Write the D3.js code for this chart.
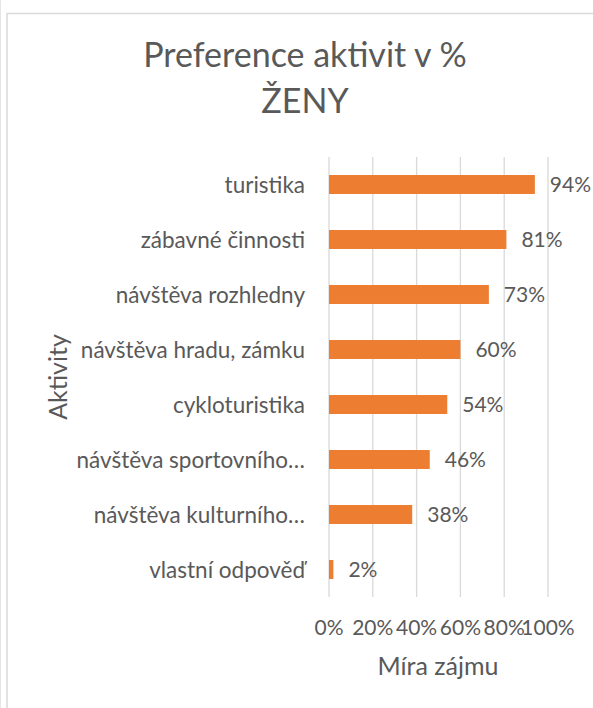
<!DOCTYPE html>
<html>
<head>
<meta charset="utf-8">
<script src="https://cdn.jsdelivr.net/npm/d3@7"></script>
<style>
  body { margin: 0; background: #fff; }
  text { font-family: Lato, "Open Sans", sans-serif; fill: #595959; }
</style>
</head>
<body>
<script>
// chart data
var categories = ["turistika", "zábavné činnosti", "návštěva rozhledny", "návštěva hradu, zámku",
                  "cykloturistika", "návštěva sportovního…", "návštěva kulturního…", "vlastní odpověď"];
var values = [0.94, 0.81, 0.73, 0.60, 0.54, 0.46, 0.38, 0.02];
var valueLabels = ["94%", "81%", "73%", "60%", "54%", "46%", "38%", "2%"];
var tickValues = [0, 0.2, 0.4, 0.6, 0.8, 1];
var titleLines = ["Preference aktivit v %", "ŽENY"];

var w = 593, h = 708;

var svg = d3.select("body").append("svg")
    .attr("width", w)
    .attr("height", h);

svg.append("rect").attr("width", w).attr("height", h).style("fill", "#fff");

// outer frame lines (cropped chart border)
svg.append("line")
    .attr("x1", 0.5).attr("x2", 0.5).attr("y1", 0).attr("y2", h)
    .style("stroke", "#e6e6e6");
svg.append("path")
    .attr("d", "M7," + h + "V13.5H" + w)
    .style("fill", "none")
    .style("stroke", "#d9d9d9")
    .style("stroke-width", 1.5);

// scales
var x = d3.scaleLinear().domain([0, 1]).range([329, 548]);
var y = d3.scaleBand().domain(categories).range([157, 597])
    .paddingInner(0.655).paddingOuter(0.3275);

// gridlines
svg.selectAll(".grid")
    .data(tickValues)
    .enter().append("line")
    .attr("class", "grid")
    .attr("x1", function(d){ return x(d); })
    .attr("x2", function(d){ return x(d); })
    .attr("y1", 157).attr("y2", 597)
    .style("stroke", "#d9d9d9")
    .style("stroke-width", 1.3);

// bars
svg.selectAll(".bar")
    .data(values)
    .enter().append("rect")
    .attr("class", "bar")
    .attr("x", x(0))
    .attr("y", function(d, i){ return y(categories[i]); })
    .attr("width", function(d){ return x(d) - x(0); })
    .attr("height", y.bandwidth())
    .style("fill", "#ed7d31");

// value labels
svg.selectAll(".val")
    .data(values)
    .enter().append("text")
    .attr("class", "val")
    .attr("x", function(d){ return x(d) + 15; })
    .attr("y", function(d, i){ return y(categories[i]) + y.bandwidth() / 2; })
    .attr("dy", "0.36em")
    .style("font-size", "21px")
    .text(function(d, i){ return valueLabels[i]; });

// category labels
svg.selectAll(".cat")
    .data(categories)
    .enter().append("text")
    .attr("class", "cat")
    .attr("x", 305)
    .attr("y", function(d){ return y(d) + y.bandwidth() / 2; })
    .attr("dy", "0.36em")
    .attr("text-anchor", "end")
    .style("font-size", "22.5px")
    .text(function(d){ return d; });

// x axis tick labels
svg.selectAll(".tick")
    .data(tickValues)
    .enter().append("text")
    .attr("class", "tick")
    .attr("x", function(d){ return x(d); })
    .attr("y", 635)
    .attr("text-anchor", "middle")
    .style("font-size", "21px")
    .text(d3.format(".0%"));

// axis titles
svg.append("text")
    .attr("x", 438).attr("y", 675)
    .attr("text-anchor", "middle")
    .style("font-size", "25px")
    .text("Míra zájmu");

svg.append("text")
    .attr("transform", "translate(67,377) rotate(-90)")
    .attr("text-anchor", "middle")
    .style("font-size", "25px")
    .text("Aktivity");

// title
svg.selectAll(".title")
    .data(titleLines)
    .enter().append("text")
    .attr("class", "title")
    .attr("x", 305)
    .attr("y", function(d, i){ return 67 + i * 46; })
    .attr("text-anchor", "middle")
    .style("font-size", "34px")
    .text(function(d){ return d; });
</script>
</body>
</html>
